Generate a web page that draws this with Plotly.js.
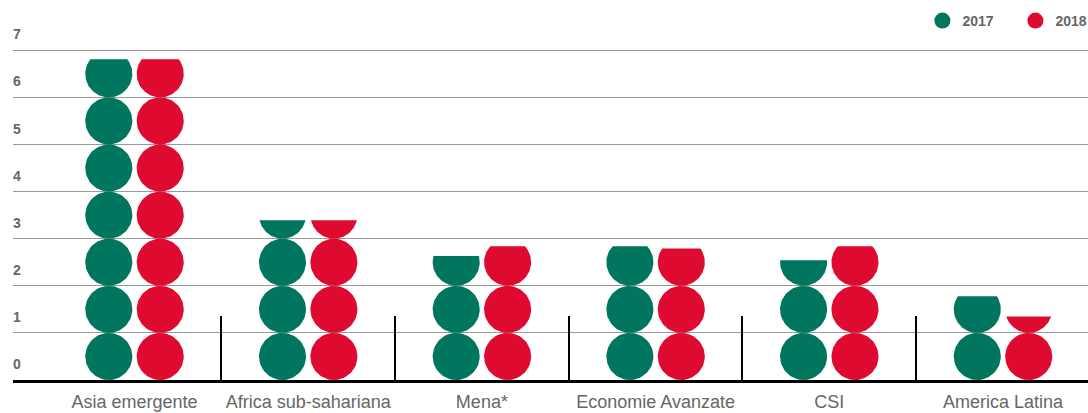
<!DOCTYPE html>
<html>
<head>
<meta charset="utf-8">
<script src="https://cdn.plot.ly/plotly-3.0.1.min.js"></script>
<style>
  html, body { margin: 0; padding: 0; background: #fff; }
  #chart { width: 1088px; height: 413px; }
</style>
</head>
<body>
<div id="chart"></div>
<script>
// ---- data ----
const categories = ['Asia emergente', 'Africa sub-sahariana', 'Mena*', 'Economie Avanzate', 'CSI', 'America Latina'];
const seriesNames = ['2017', '2018'];
const values2017 = [6.81, 3.39, 2.63, 2.84, 2.54, 1.78];
const values2018 = [6.81, 3.39, 2.84, 2.79, 2.84, 1.35];
const yTickVals = [0, 1, 2, 3, 4, 5, 6, 7];

// ---- style ----
const colors = ['#00765f', '#de0a30'];
const offsets = [-0.148, 0.148];   // x offset of each series column (x units)
const rx = 0.1355;                 // circle radius, x units
const ry = 0.5;                    // circle radius, y units

function circleStack(values, offset) {
  const xs = [], ys = [];
  const N = 72;
  values.forEach((v, i) => {
    const cx = i + offset;
    for (let k = 0; k < v; k++) {
      const cy = k + ry;
      const top = Math.min(v, k + 1);
      let t0, t1;
      if (top >= k + 1) { t0 = 0; t1 = 2 * Math.PI; }
      else {
        const a = Math.asin(Math.max(-1, Math.min(1, (top - cy) / ry)));
        t0 = Math.PI - a; t1 = 2 * Math.PI + a;
      }
      for (let j = 0; j <= N; j++) {
        const t = t0 + (t1 - t0) * j / N;
        xs.push(cx + rx * Math.cos(t));
        ys.push(cy + ry * Math.sin(t));
      }
      xs.push(null); ys.push(null);
    }
  });
  return { xs, ys };
}

const allValues = [values2017, values2018];
const traces = [];
allValues.forEach((vals, s) => {
  const st = circleStack(vals, offsets[s]);
  traces.push({
    type: 'scatter', mode: 'lines', x: st.xs, y: st.ys,
    fill: 'toself', fillcolor: colors[s], line: { width: 0, color: colors[s] },
    hoverinfo: 'skip', showlegend: false, name: seriesNames[s]
  });
});
seriesNames.forEach((n, s) => {
  traces.push({
    type: 'scatter', mode: 'markers', x: [null], y: [null], name: n,
    marker: { color: colors[s], size: 18 }, showlegend: true
  });
});

const tickIdx = categories.map((_, i) => i);
const boundaries = categories.slice(1).map((_, i) => i + 0.5);

const layout = {
  width: 1088, height: 413,
  margin: { l: 13, r: 0, t: 22, b: 33, autoexpand: false },
  paper_bgcolor: '#fff', plot_bgcolor: '#fff',
  font: { family: '"Liberation Sans", Arial, sans-serif', color: '#666' },
  showlegend: true,
  legend: {
    orientation: 'h', xref: 'container', yref: 'container',
    x: 0.8478, y: 0.988, xanchor: 'left', yanchor: 'top',
    entrywidth: 48, entrywidthmode: 'pixels',
    font: { size: 14, color: '#666', weight: 'bold' },
    itemclick: false, itemdoubleclick: false
  },
  xaxis: {
    range: [-0.6995, 5.4895], tickmode: 'array', tickvals: tickIdx, ticktext: categories,
    showgrid: false, zeroline: false, showline: true, linecolor: '#000', linewidth: 2.5,
    ticks: '', tickfont: { size: 18, color: '#666' }, ticklabelstandoff: 4,
    minor: { tickmode: 'array', tickvals: boundaries, ticks: 'inside', ticklen: 64, tickwidth: 2, tickcolor: '#000', showgrid: false },
    fixedrange: true
  },
  yaxis: {
    range: [0, 7.6], tickmode: 'array', tickvals: yTickVals,
    ticklabelposition: 'inside top', ticks: '', ticklabelshift: -6, ticklabelstandoff: -3,
    tickfont: { size: 14, color: '#666', weight: 'bold' },
    showgrid: true, gridcolor: '#999', gridwidth: 1, zeroline: false, showline: false,
    fixedrange: true
  }
};

Plotly.newPlot('chart', traces, layout, { displayModeBar: false, staticPlot: true });
</script>
</body>
</html>
